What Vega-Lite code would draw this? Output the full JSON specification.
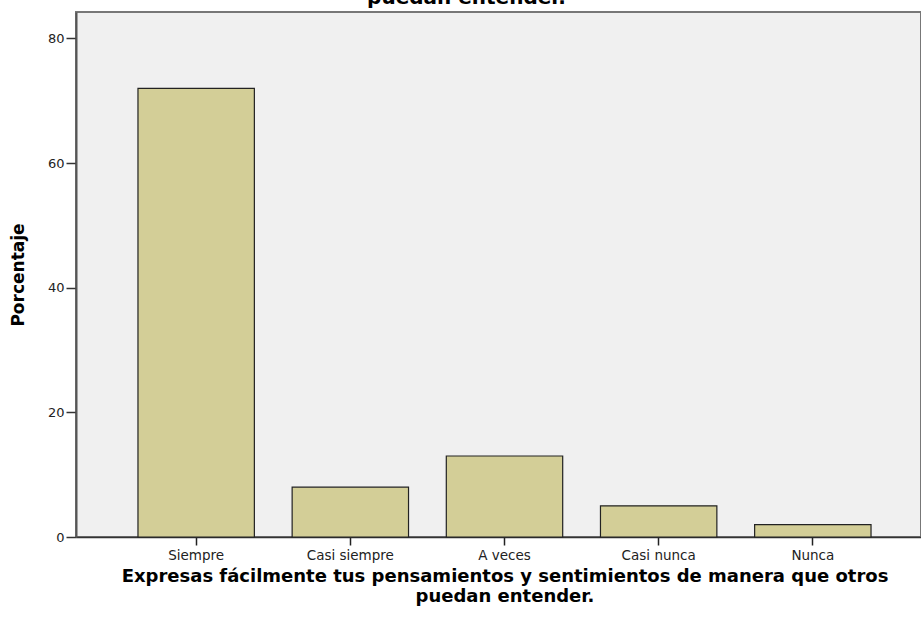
{
  "$schema": "https://vega.github.io/schema/vega-lite/v6.json",
  "autosize": "none",
  "width": 845,
  "height": 525,
  "padding": {"left": 76, "top": 12, "right": 0, "bottom": 85},
  "background": "#ffffff",
  "title": {
    "text": ["Expresas fácilmente tus pensamientos y sentimientos de manera que otros", "puedan entender."],
    "font": "DejaVu Sans",
    "fontSize": 20,
    "fontWeight": "bold",
    "color": "#000000",
    "anchor": "middle",
    "offset": 4,
    "dx": -32,
    "lineHeight": 23
  },
  "data": {
    "values": [
      {"categoria": "Siempre", "porcentaje": 72},
      {"categoria": "Casi siempre", "porcentaje": 8},
      {"categoria": "A veces", "porcentaje": 13},
      {"categoria": "Casi nunca", "porcentaje": 5},
      {"categoria": "Nunca", "porcentaje": 2}
    ]
  },
  "mark": {"type": "bar", "fill": "#D3CE97", "stroke": "#222222", "strokeWidth": 1.2},
  "encoding": {
    "x": {
      "field": "categoria",
      "type": "nominal",
      "sort": ["Siempre", "Casi siempre", "A veces", "Casi nunca", "Nunca"],
      "scale": {"range": [0, 857], "paddingInner": 0.245, "paddingOuter": 0.402},
      "axis": {
        "title": ["Expresas fácilmente tus pensamientos y sentimientos de manera que otros", "puedan entender."],
        "titleFont": "DejaVu Sans",
        "titleFontSize": 18,
        "titleFontWeight": "bold",
        "titleColor": "#000000",
        "titleLineHeight": 20,
        "titleX": 428.5,
        "titlePadding": 6,
        "labelAngle": 0,
        "labelFont": "DejaVu Sans",
        "labelFontSize": 13.5,
        "labelColor": "#222222",
        "labelPadding": 3,
        "tickSize": 8,
        "tickColor": "#222222",
        "tickWidth": 1.5,
        "domainColor": "#333333",
        "domainWidth": 1.5,
        "grid": false
      }
    },
    "y": {
      "field": "porcentaje",
      "type": "quantitative",
      "scale": {"domain": [0, 84.25], "nice": false, "zero": true},
      "axis": {
        "title": "Porcentaje",
        "titleFont": "DejaVu Sans",
        "titleFontSize": 17,
        "titleFontWeight": "bold",
        "titleColor": "#000000",
        "titlePadding": 20,
        "values": [0, 20, 40, 60, 80],
        "labelFont": "DejaVu Sans",
        "labelFontSize": 13,
        "labelColor": "#222222",
        "labelPadding": 2,
        "tickSize": 10,
        "tickColor": "#333333",
        "tickWidth": 1.5,
        "domainColor": "#555555",
        "domainWidth": 2,
        "grid": false
      }
    }
  },
  "config": {
    "view": {"fill": "#F0F0F0", "stroke": "#777777", "strokeWidth": 2}
  }
}
